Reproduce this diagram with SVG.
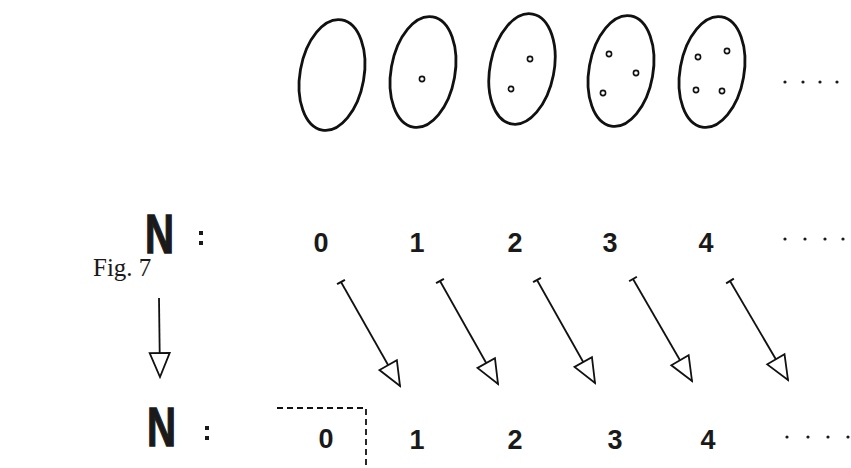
<svg xmlns="http://www.w3.org/2000/svg" width="851" height="468" viewBox="0 0 851 468">
<style>
.set{fill:none;stroke:#111;stroke-width:2.8}
.pt{fill:none;stroke:#111;stroke-width:1.6}
.dig{font-family:"Liberation Sans",Arial,sans-serif;font-weight:bold;font-size:27px;fill:#1a1a1a;text-anchor:middle}
.bigN{font-family:"Liberation Sans",Arial,sans-serif;font-weight:bold;font-size:56px;fill:#1a1a1a;stroke:#1a1a1a;stroke-width:1.4}
.dot{fill:#1a1a1a}
.arr{stroke:#111;stroke-width:1.8;fill:none}
.dash{stroke:#111;stroke-width:1.8;fill:none;stroke-dasharray:6,4}
.cap{font-family:"Liberation Serif","Times New Roman",serif;font-size:25px;fill:#1a1a1a}
</style>
<defs>
<marker id="head" markerUnits="userSpaceOnUse" viewBox="0 0 28 24" refX="26" refY="12" markerWidth="28" markerHeight="24" orient="auto">
<path d="M2,2 L26,12 L2,22 Z" fill="#fff" stroke="#111" stroke-width="1.8" stroke-linejoin="miter"/>
</marker>
<marker id="tick" markerUnits="userSpaceOnUse" viewBox="-2 -6 4 12" refX="0" refY="0" markerWidth="4" markerHeight="12" orient="auto">
<path d="M0,-4.5 L0,4.5" stroke="#111" stroke-width="2"/>
</marker>
</defs>

<g id="sets">
<g id="set0"><ellipse class="set" cx="332" cy="75" rx="32" ry="56" transform="rotate(10 332 75)"/></g>
<g id="set1"><ellipse class="set" cx="423" cy="72" rx="32" ry="56" transform="rotate(10 423 72)"/>
<circle class="pt" cx="422" cy="79" r="2.6"/></g>
<g id="set2"><ellipse class="set" cx="522" cy="69" rx="32" ry="56" transform="rotate(11 522 69)"/>
<circle class="pt" cx="530" cy="59" r="2.6"/><circle class="pt" cx="511" cy="89" r="2.6"/></g>
<g id="set3"><ellipse class="set" cx="621" cy="71" rx="32" ry="56" transform="rotate(10 621 71)"/>
<circle class="pt" cx="609" cy="54" r="2.6"/><circle class="pt" cx="636" cy="73" r="2.6"/><circle class="pt" cx="603" cy="93" r="2.6"/></g>
<g id="set4"><ellipse class="set" cx="712" cy="72" rx="32" ry="56" transform="rotate(10 712 72)"/>
<circle class="pt" cx="698" cy="57" r="2.6"/><circle class="pt" cx="727" cy="51" r="2.6"/><circle class="pt" cx="696" cy="90" r="2.6"/><circle class="pt" cx="722" cy="91" r="2.6"/></g>
<g id="setdots"><circle class="dot" cx="785" cy="82" r="1.6"/><circle class="dot" cx="803" cy="82" r="1.6"/><circle class="dot" cx="820" cy="82" r="1.6"/><circle class="dot" cx="837" cy="82" r="1.6"/></g>
</g>

<g id="row1">
<text class="bigN" x="145" y="253" textLength="29" lengthAdjust="spacingAndGlyphs">N</text>
<rect class="dot" x="199" y="231" width="4" height="4"/><rect class="dot" x="199" y="241" width="4" height="4"/>
<text class="dig" x="321" y="252">0</text>
<text class="dig" x="417" y="252">1</text>
<text class="dig" x="515" y="252">2</text>
<text class="dig" x="610" y="252">3</text>
<text class="dig" x="706" y="252">4</text>
<circle class="dot" cx="785" cy="239" r="1.6"/><circle class="dot" cx="805" cy="239" r="1.6"/><circle class="dot" cx="825" cy="239" r="1.6"/><circle class="dot" cx="843" cy="239" r="1.6"/>
</g>

<g id="caption"><text class="cap" x="93" y="276">Fig. 7</text></g>

<g id="row2">
<text class="bigN" x="147" y="446" textLength="29" lengthAdjust="spacingAndGlyphs">N</text>
<rect class="dot" x="205" y="426" width="4" height="4"/><rect class="dot" x="205" y="436" width="4" height="4"/>
<text class="dig" x="326" y="448">0</text>
<text class="dig" x="417" y="449">1</text>
<text class="dig" x="515" y="449">2</text>
<text class="dig" x="615" y="449">3</text>
<text class="dig" x="708" y="449">4</text>
<circle class="dot" cx="787" cy="437" r="1.6"/><circle class="dot" cx="808" cy="437" r="1.6"/><circle class="dot" cx="828" cy="437" r="1.6"/><circle class="dot" cx="848" cy="437" r="1.6"/>
<path id="box0" class="dash" d="M277,408 H366 V468"/>
</g>

<g id="connectors">
<line class="arr" x1="159" y1="298" x2="160" y2="377" marker-end="url(#head)"/>
<line class="arr" x1="341" y1="282" x2="400" y2="386" marker-start="url(#tick)" marker-end="url(#head)"/>
<line class="arr" x1="440" y1="281" x2="498" y2="384" marker-start="url(#tick)" marker-end="url(#head)"/>
<line class="arr" x1="537" y1="280" x2="595" y2="383" marker-start="url(#tick)" marker-end="url(#head)"/>
<line class="arr" x1="633" y1="279" x2="692" y2="381" marker-start="url(#tick)" marker-end="url(#head)"/>
<line class="arr" x1="730" y1="281" x2="788" y2="380" marker-start="url(#tick)" marker-end="url(#head)"/>
</g>
</svg>
